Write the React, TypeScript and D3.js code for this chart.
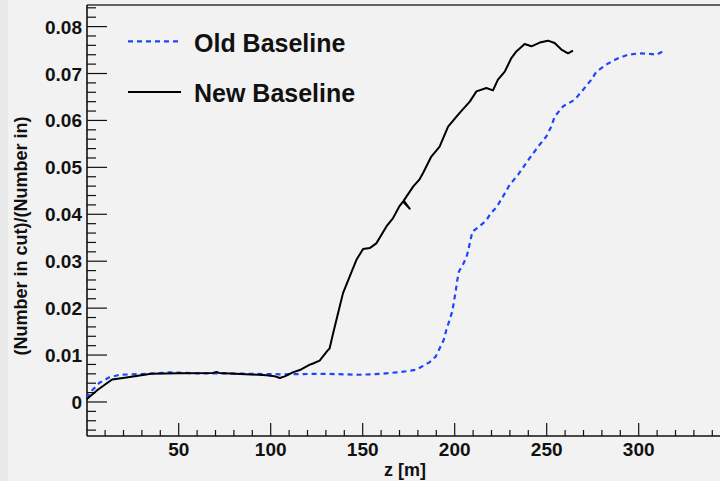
import React from "react";
import * as d3 from "d3";

const newZ = [0, 6, 13.8, 21.6, 35, 50, 68.6, 70.5, 72, 97.6, 102, 105, 108, 112, 115.8, 121, 123, 126.6, 128.4, 131, 132, 133.9, 136.6, 139.3, 142.9, 146.6, 150.2, 153.8, 157.4, 162.9, 166.5, 170.1, 171.9, 175.5, 172.3, 177.4, 181, 182.8, 187.3, 191.8, 196.4, 202.7, 208.2, 211.8, 217.2, 220.8, 223.5, 227.2, 230.8, 233.5, 238, 241.7, 246.2, 250.7, 254.3, 258, 261.6, 264.3];
const newV = [0.0006, 0.0026, 0.0048, 0.0052, 0.006, 0.0061, 0.0062, 0.0064, 0.0062, 0.0057, 0.0055, 0.0051, 0.0055, 0.0063, 0.0068, 0.0079, 0.0082, 0.0088, 0.0097, 0.011, 0.0114, 0.0146, 0.0189, 0.0232, 0.0267, 0.0303, 0.0326, 0.0328, 0.0338, 0.0374, 0.0392, 0.0418, 0.0427, 0.0412, 0.0429, 0.0459, 0.0475, 0.0488, 0.0523, 0.0544, 0.0587, 0.0616, 0.064, 0.0662, 0.0669, 0.0664, 0.0687, 0.0704, 0.0733, 0.0747, 0.0763, 0.0758, 0.0766, 0.077, 0.0765, 0.0751, 0.0743, 0.0749];

const oldZ = [0, 3, 7, 12, 18, 32.4, 45, 60, 75, 90, 105, 130, 148.4, 160, 168.3, 175, 179.2, 182.8, 186.4, 189.7, 191.8, 194, 195.5, 196.9, 198.7, 199.6, 200.5, 201.3, 202.3, 204.9, 206.7, 208.2, 209.6, 213.6, 217.2, 219.4, 222.7, 225.4, 229.9, 234.4, 240.8, 245.3, 249.8, 252.5, 254.3, 258.9, 265.2, 269.7, 274.3, 277, 282.4, 287.9, 294.2, 300.5, 306, 309.6, 314.1];
const oldV = [0.0008, 0.0025, 0.0041, 0.0052, 0.0058, 0.006, 0.0063, 0.0061, 0.0061, 0.006, 0.0059, 0.006, 0.0058, 0.006, 0.0063, 0.0066, 0.0069, 0.0077, 0.0085, 0.0097, 0.0114, 0.0132, 0.0154, 0.0171, 0.0193, 0.0214, 0.0235, 0.0257, 0.0278, 0.0296, 0.0313, 0.0338, 0.0363, 0.0375, 0.0387, 0.0401, 0.0415, 0.0432, 0.0463, 0.0484, 0.052, 0.0544, 0.0566, 0.0587, 0.0608, 0.063, 0.0644, 0.0665, 0.0687, 0.0704, 0.0719, 0.0731, 0.074, 0.0743, 0.0742, 0.074, 0.0749];

const xMajor = [50, 100, 150, 200, 250, 300];
const yMajor = [0, 0.01, 0.02, 0.03, 0.04, 0.05, 0.06, 0.07, 0.08];
const legendLabels = ["Old Baseline", "New Baseline"];

const FONT = "'Liberation Sans', Arial, Helvetica, sans-serif";
const BLUE = "#1f44ff";

export default function App() {
  const W = 720, H = 481;
  const x = d3.scaleLinear().domain([0, 345]).range([86.7, 721.5]);
  const y = d3.scaleLinear().domain([-0.00725, 0.0846]).range([436, 5]);
  const left = 87, top = 5, bottom = 436;

  const line = d3.line<[number, number]>().x(d => x(d[0])).y(d => y(d[1]));
  const newPts = newZ.map((z, i) => [z, newV[i]] as [number, number]);
  const oldPts = oldZ.map((z, i) => [z, oldV[i]] as [number, number]);

  const xMinor = d3.range(10, 345, 10).filter(v => v % 50 !== 0);
  const yMinor = d3.range(-6, 85, 2).map(v => v / 1000).filter(v => Math.abs(Math.round(v * 1000) % 10) !== 0);

  return (
    <div style={{ position: "fixed", left: 0, top: 0, width: W, height: H }}>
      <svg width={W} height={H} style={{ display: "block" }}>
        <rect x={0} y={0} width={W} height={H} fill="#f2f2f2" />
        <rect x={0} y={0} width={8} height={H} fill="#e9e9e9" />
        {/* frame */}
        <line x1={left} x2={W} y1={top} y2={top} stroke="#333" strokeWidth={1.3} />
        <line x1={left} x2={left} y1={top} y2={bottom} stroke="#111" strokeWidth={1.6} />
        <line x1={left} x2={W} y1={bottom} y2={bottom} stroke="#111" strokeWidth={1.6} />
        {/* x ticks */}
        {xMajor.map(v => (
          <g key={"xm" + v}>
            <line x1={x(v)} x2={x(v)} y1={bottom} y2={bottom - 13} stroke="#111" strokeWidth={1.2} />
            <text x={x(v)} y={456} textAnchor="middle" fontFamily={FONT} fontWeight="bold" fontSize={19} fill="#111">{v}</text>
          </g>
        ))}
        {xMinor.map(v => (
          <line key={"xn" + v} x1={x(v)} x2={x(v)} y1={bottom} y2={bottom - 6} stroke="#111" strokeWidth={1.2} />
        ))}
        {/* y ticks */}
        {yMajor.map(v => (
          <g key={"ym" + v}>
            <line x1={left} x2={left + 20} y1={y(v)} y2={y(v)} stroke="#111" strokeWidth={1.2} />
            <text x={82} y={y(v) + 7} textAnchor="end" fontFamily={FONT} fontWeight="bold" fontSize={19} fill="#111">{v === 0 ? "0" : d3.format(".2f")(v)}</text>
          </g>
        ))}
        {yMinor.map(v => (
          <line key={"yn" + v} x1={left} x2={left + 9} y1={y(v)} y2={y(v)} stroke="#111" strokeWidth={1.2} />
        ))}
        {/* titles */}
        <text x={405} y={476} textAnchor="middle" fontFamily={FONT} fontWeight="bold" fontSize={18} fill="#111">z [m]</text>
        <text transform={`translate(27,236) rotate(-90)`} textAnchor="middle" fontFamily={FONT} fontWeight="bold" fontSize={18} fill="#111">(Number in cut)/(Number in)</text>
        {/* curves */}
        <path d={line(oldPts) || ""} fill="none" stroke={BLUE} strokeWidth={2.2} strokeDasharray="5 4" />
        <path d={line(newPts) || ""} fill="none" stroke="#000" strokeWidth={2} strokeLinejoin="round" />
        {/* legend */}
        <line x1={128} x2={181} y1={41.3} y2={41.3} stroke={BLUE} strokeWidth={2.2} strokeDasharray="5 4" />
        <text x={194} y={52} fontFamily={FONT} fontWeight="bold" fontSize={25} fill="#111">{legendLabels[0]}</text>
        <line x1={128} x2={181} y1={92} y2={92} stroke="#000" strokeWidth={2} />
        <text x={194} y={102} fontFamily={FONT} fontWeight="bold" fontSize={25} fill="#111">{legendLabels[1]}</text>
      </svg>
    </div>
  );
}
